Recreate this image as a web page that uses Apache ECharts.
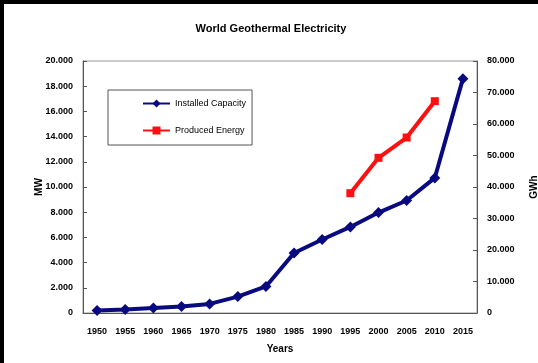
<!DOCTYPE html>
<html>
<head>
<meta charset="utf-8">
<script src="https://cdn.jsdelivr.net/npm/echarts@6/dist/echarts.min.js"></script>
<style>
  html, body { margin: 0; padding: 0; background: #fff; }
  #chart { width: 538px; height: 363px; box-sizing: border-box; border-top: 4px solid #000; border-left: 4px solid #000; }
</style>
</head>
<body>
<div id="chart"></div>
<script>
// years on the x axis
var years = ['1950', '1955', '1960', '1965', '1970', '1975', '1980', '1985', '1990', '1995', '2000', '2005', '2010', '2015'];
// installed capacity, MW (left axis)
var capacity = [200, 270, 390, 520, 720, 1300, 2110, 4760, 5830, 6830, 7970, 8930, 10720, 18600];
// produced energy, GWh (right axis), only from 1995 to 2010
var energy = [null, null, null, null, null, null, null, null, null, 38035, 49261, 55709, 67246, null];

var fmt = function (v) {
  return v === 0 ? '0' : String(v).replace(/\B(?=(\d{3})+(?!\d))/g, '.');
};

var dom = document.getElementById('chart');
var myChart = echarts.init(dom);
var labelStyle = { color: '#000', fontSize: 9, fontWeight: 'bold', fontFamily: 'Liberation Sans' };

var option = {
  animation: false,
  backgroundColor: '#fff',
  title: {
    text: 'World Geothermal Electricity',
    left: 'center',
    top: 14,
    textStyle: { color: '#000', fontSize: 11, fontWeight: 'bold', fontFamily: 'Liberation Sans' }
  },
  legend: {
    orient: 'vertical',
    left: 104,
    top: 86,
    padding: [9, 6, 10, 34],
    itemGap: 18,
    itemWidth: 27,
    itemHeight: 10,
    borderColor: '#555',
    borderWidth: 1,
    backgroundColor: '#fff',
    textStyle: { color: '#000', fontSize: 9, fontFamily: 'Liberation Sans' },
    data: ['Installed Capacity', 'Produced Energy']
  },
  grid: {
    left: 79, right: 61, top: 57, bottom: 50,
    containLabel: false, outerBoundsMode: 'none',
    show: true, borderColor: '#999', borderWidth: 1
  },
  xAxis: {
    type: 'category',
    data: years,
    boundaryGap: true,
    name: 'Years',
    nameLocation: 'middle',
    nameGap: 31,
    nameMoveOverlap: false,
    nameTextStyle: { color: '#000', fontSize: 10, fontWeight: 'bold', fontFamily: 'Liberation Sans' },
    axisLine: { lineStyle: { color: '#555', width: 1 } },
    axisTick: { inside: true, length: 4, lineStyle: { color: '#555' } },
    axisLabel: Object.assign({ margin: 14, interval: 0 }, labelStyle),
    splitLine: { show: false }
  },
  yAxis: [{
    type: 'value',
    min: 0,
    max: 20000,
    interval: 2000,
    name: 'MW',
    nameLocation: 'middle',
    nameGap: 39,
    nameMoveOverlap: false,
    nameTextStyle: { color: '#000', fontSize: 10, fontWeight: 'bold', fontFamily: 'Liberation Sans' },
    axisLine: { show: true, lineStyle: { color: '#555', width: 1 } },
    axisTick: { show: true, inside: true, length: 4, lineStyle: { color: '#555' } },
    axisLabel: Object.assign({ margin: 10, formatter: fmt }, labelStyle),
    splitLine: { show: false }
  }, {
    type: 'value',
    min: 0,
    max: 80000,
    interval: 10000,
    name: 'GWh',
    nameLocation: 'middle',
    nameGap: 52,
    nameRotate: 90,
    nameMoveOverlap: false,
    nameTextStyle: { color: '#000', fontSize: 10, fontWeight: 'bold', fontFamily: 'Liberation Sans' },
    axisLine: { show: true, lineStyle: { color: '#555', width: 1 } },
    axisTick: { show: true, inside: true, length: 4, lineStyle: { color: '#555' } },
    axisLabel: Object.assign({ margin: 10, formatter: fmt }, labelStyle),
    splitLine: { show: false }
  }],
  series: [{
    name: 'Installed Capacity',
    type: 'line',
    yAxisIndex: 0,
    data: capacity,
    color: '#0a0a80',
    lineStyle: { width: 4 },
    symbol: 'diamond',
    symbolSize: 11
  }, {
    name: 'Produced Energy',
    type: 'line',
    yAxisIndex: 1,
    data: energy,
    color: '#ff1010',
    lineStyle: { width: 4 },
    symbol: 'rect',
    symbolSize: 8
  }]
};

if (option && typeof option === 'object') {
  myChart.setOption(option, true);
}
</script>
</body>
</html>
